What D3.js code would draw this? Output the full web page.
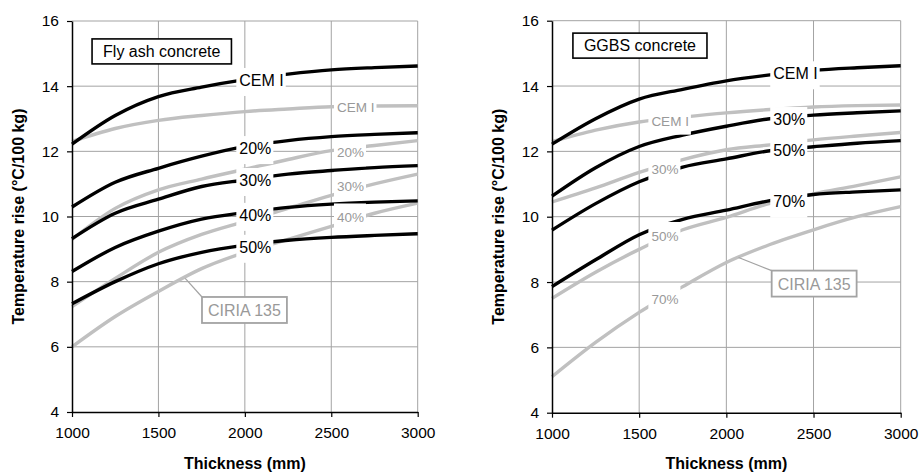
<!DOCTYPE html>
<html>
<head>
<meta charset="utf-8">
<script src="https://cdn.jsdelivr.net/npm/d3@7"></script>
<style>
body { margin: 0; background: #fff; }
svg text { font-family: "Liberation Sans", Arial, sans-serif; }
</style>
</head>
<body>
<script>
// x values shared by every curve
const thickness = [1000, 1250, 1500, 1750, 2000, 2250, 2500, 2750, 3000];
const xTicks = [1000, 1500, 2000, 2500, 3000];
const yTicks = [4, 6, 8, 10, 12, 14, 16];

// fly ash panel, black = measured, grey = CIRIA 135
const flyCemI      = [12.22, 13.1, 13.68, 13.97, 14.2, 14.37, 14.5, 14.57, 14.62];
const fly20        = [10.29, 11.05, 11.48, 11.85, 12.15, 12.33, 12.45, 12.52, 12.57];
const fly30        = [9.32, 10.1, 10.53, 10.92, 11.12, 11.3, 11.41, 11.5, 11.56];
const fly40        = [8.31, 9.05, 9.55, 9.92, 10.12, 10.28, 10.38, 10.44, 10.48];
const fly50        = [7.32, 8.0, 8.55, 8.9, 9.12, 9.27, 9.36, 9.42, 9.47];
const flyCemIGrey  = [12.3, 12.7, 12.95, 13.1, 13.22, 13.3, 13.37, 13.39, 13.4];
const fly20Grey    = [9.3, 10.25, 10.82, 11.15, 11.45, 11.75, 12.02, 12.18, 12.33];
const fly30Grey    = [7.23, 8.1, 8.9, 9.45, 9.85, 10.25, 10.65, 11.0, 11.3];
const fly40Grey    = [6.0, 6.93, 7.7, 8.4, 8.9, 9.3, 9.7, 10.1, 10.41];

// GGBS panel
const ggCemI       = [12.22, 13.0, 13.6, 13.9, 14.16, 14.34, 14.48, 14.56, 14.62];
const gg30         = [10.63, 11.5, 12.15, 12.5, 12.77, 13.0, 13.11, 13.18, 13.24];
const gg50         = [9.59, 10.4, 11.07, 11.52, 11.77, 12.02, 12.14, 12.25, 12.33];
const gg70         = [7.86, 8.68, 9.45, 9.92, 10.2, 10.49, 10.68, 10.76, 10.82];
const ggCemIGrey   = [12.3, 12.65, 12.9, 13.05, 13.18, 13.28, 13.36, 13.4, 13.42];
const gg30Grey     = [10.45, 10.88, 11.36, 11.75, 12.05, 12.2, 12.35, 12.47, 12.58];
const gg50Grey     = [7.5, 8.3, 9.0, 9.6, 9.98, 10.41, 10.7, 10.95, 11.22];
const gg70Grey     = [5.1, 6.15, 7.07, 7.86, 8.6, 9.15, 9.6, 10.0, 10.31];

// curve labels: text, left x (mm) and centre y
const flyBlackNames = ["CEM I", "20%", "30%", "40%", "50%"];
const flyBlackLabelY = [14.19, 12.1, 11.12, 10.05, 9.07];
const flyGreyNames = ["CEM I", "20%", "30%", "40%"];
const flyGreyLabelY = [13.35, 11.97, 10.94, 9.97];
const ggBlackNames = ["CEM I", "30%", "50%", "70%"];
const ggBlackLabelY = [14.39, 12.99, 12.04, 10.46];
const ggGreyNames = ["CEM I", "30%", "50%", "70%"];
const ggGreyLabelY = [12.94, 11.46, 9.41, 7.48];

const black = '#000', grey = '#c0c0c0', gridColor = '#a3a3a3', greyText = '#999';

let svg = d3.select("body")
            .append("svg")
            .attr("width", 919)
            .attr("height", 472);

let addLabels = (g, x, y, names, lx, ly, color, size, up, down) => {
    names.forEach((n, i) => {
        let rect = g.append("rect");
        let t = g.append("text")
                .attr("x", x(lx))
                .attr("y", y(ly[i]))
                .attr("dy", "0.36em")
                .attr("font-size", size)
                .attr("fill", color)
                .text(n);
        let w = t.node().getComputedTextLength();
        rect.attr("x", x(lx) - 3)
            .attr("y", y(ly[i]) - up)
            .attr("width", w + 5)
            .attr("height", up + down)
            .attr("fill", "#fff");
    });
};

let drawPanel = (p) => {
    let x = d3.scaleLinear().domain([1000, 3000]).range([p.left, p.right]);
    let y = d3.scaleLinear().domain([4, 16]).range([p.bottom, p.top]);
    let g = svg.append("g");

    // grid
    g.selectAll(".hgrid").data(yTicks.slice(1)).join("line")
        .attr("class", "hgrid")
        .attr("x1", p.left).attr("x2", p.right)
        .attr("y1", d => y(d)).attr("y2", d => y(d))
        .attr("stroke", gridColor).attr("stroke-width", 1);
    g.selectAll(".vgrid").data(xTicks.slice(1)).join("line")
        .attr("class", "vgrid")
        .attr("x1", d => x(d)).attr("x2", d => x(d))
        .attr("y1", p.top).attr("y2", p.bottom)
        .attr("stroke", gridColor).attr("stroke-width", 1);

    let line = d3.line()
                .x((d, i) => x(thickness[i]))
                .y(d => y(d))
                .curve(d3.curveMonotoneX);

    p.greySeries.forEach(s => {
        g.append("path").attr("d", line(s))
            .attr("fill", "none").attr("stroke", grey)
            .attr("stroke-width", 3.4).attr("stroke-linejoin", "round");
    });
    p.blackSeries.forEach(s => {
        g.append("path").attr("d", line(s))
            .attr("fill", "none").attr("stroke", black)
            .attr("stroke-width", 3.4).attr("stroke-linejoin", "round");
    });

    addLabels(g, x, y, p.greyNames, p.greyLabelX, p.greyLabelY, greyText, 13.5, 14, 14);
    addLabels(g, x, y, p.blackNames, p.blackLabelX, p.blackLabelY, black, 16, 12, 16);

    // axes
    let xAxis = g.append("g")
        .attr("transform", `translate(0,${p.bottom})`)
        .call(d3.axisBottom(x).tickValues(xTicks).tickFormat(d3.format("d"))
            .tickSize(5).tickSizeOuter(0).tickPadding(10));
    let yAxis = g.append("g")
        .attr("transform", `translate(${p.left},0)`)
        .call(d3.axisLeft(y).tickValues(yTicks).tickSize(5).tickSizeOuter(0).tickPadding(8));
    [xAxis, yAxis].forEach(a => {
        a.attr("font-size", 15.5).attr("font-family", '"Liberation Sans", Arial, sans-serif');
        a.select(".domain").attr("stroke", black).attr("stroke-width", 1.5);
        a.selectAll(".tick line").attr("stroke", black).attr("stroke-width", 1.2);
        a.selectAll(".tick text").attr("fill", black);
    });

    // axis titles
    g.append("text")
        .attr("x", (p.left + p.right) / 2).attr("y", 469)
        .attr("text-anchor", "middle").attr("font-size", 16).attr("font-weight", "bold")
        .text("Thickness (mm)");
    g.append("text")
        .attr("transform", `translate(${p.left - 48},${(p.top + p.bottom) / 2}) rotate(-90)`)
        .attr("text-anchor", "middle").attr("font-size", 16).attr("font-weight", "bold")
        .text("Temperature rise (\u00B0C/100 kg)");

    // panel title box
    let tRect = g.append("rect");
    let tt = g.append("text")
        .attr("x", x(p.titleX) + 11).attr("y", y(p.titleY) + 18)
        .attr("font-size", 16).text(p.title);
    let tw = tt.node().getComputedTextLength();
    tRect.attr("x", x(p.titleX)).attr("y", y(p.titleY))
        .attr("width", tw + 22).attr("height", 25)
        .attr("fill", "#fff").attr("stroke", black).attr("stroke-width", 1.6);

    // CIRIA 135 call-out
    g.append("line")
        .attr("x1", x(p.leaderX)).attr("y1", y(p.leaderY))
        .attr("x2", x(p.ciriaX)).attr("y2", y(p.ciriaY))
        .attr("stroke", gridColor).attr("stroke-width", 1.2);
    let cRect = g.append("rect");
    let ct = g.append("text")
        .attr("x", x(p.ciriaX) + 6).attr("y", y(p.ciriaY) + 19)
        .attr("font-size", 16).attr("fill", greyText).text("CIRIA 135");
    let cw = ct.node().getComputedTextLength();
    cRect.attr("x", x(p.ciriaX)).attr("y", y(p.ciriaY))
        .attr("width", cw + 12).attr("height", 26)
        .attr("fill", "#fff").attr("stroke", gridColor).attr("stroke-width", 1.8);
};

drawPanel({
    left: 72, right: 417.7, top: 21, bottom: 412,
    blackSeries: [flyCemI, fly20, fly30, fly40, fly50],
    greySeries: [flyCemIGrey, fly20Grey, fly30Grey, fly40Grey],
    blackNames: flyBlackNames, blackLabelX: 1968, blackLabelY: flyBlackLabelY,
    greyNames: flyGreyNames, greyLabelX: 2533, greyLabelY: flyGreyLabelY,
    title: "Fly ash concrete", titleX: 1116, titleY: 15.45,
    ciriaX: 1752, ciriaY: 7.53, leaderX: 1655, leaderY: 8.1
});

drawPanel({
    left: 552, right: 900.7, top: 20.7, bottom: 412.7,
    blackSeries: [ggCemI, gg30, gg50, gg70],
    greySeries: [ggCemIGrey, gg30Grey, gg50Grey, gg70Grey],
    blackNames: ggBlackNames, blackLabelX: 2269, blackLabelY: ggBlackLabelY,
    greyNames: ggGreyNames, greyLabelX: 1570, greyLabelY: ggGreyLabelY,
    title: "GGBS concrete", titleX: 1120, titleY: 15.62,
    ciriaX: 2260, ciriaY: 8.35, leaderX: 2070, leaderY: 8.75
});
</script>
</body>
</html>
